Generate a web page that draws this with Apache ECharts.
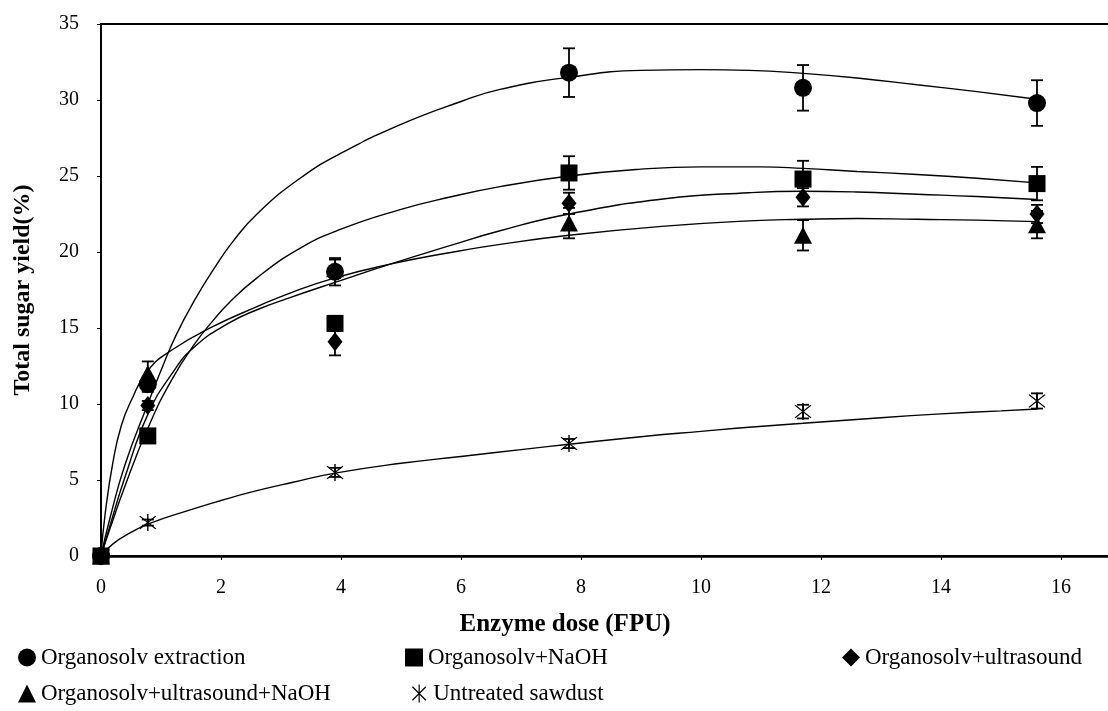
<!DOCTYPE html>
<html>
<head>
<meta charset="utf-8">
<script src="https://cdn.jsdelivr.net/npm/echarts@6/dist/echarts.min.js"></script>
<style>
  html, body { margin: 0; padding: 0; background: #fff; }
  #chart { width: 1108px; height: 711px; }
</style>
</head>
<body>
<div id="chart"></div>
<script>
// Enzyme doses (FPU) at which total sugar yield was measured
const doses = [0, 0.78, 3.9, 7.8, 11.7, 15.6];

const seriesNames = [
  'Organosolv extraction',
  'Organosolv+NaOH',
  'Organosolv+ultrasound',
  'Organosolv+ultrasound+NaOH',
  'Untreated sawdust'
];

// Measured yields (%) and their standard deviations
const yieldExtraction = [0, 11.3, 18.7, 31.8, 30.8, 29.8];
const errExtraction   = [0, 0.5, 0.9, 1.6, 1.5, 1.5];

const yieldNaOH = [0, 7.9, 15.3, 25.2, 24.8, 24.5];
const errNaOH   = [0, 0.3, 0.5, 1.1, 1.2, 1.1];

const yieldUltrasound = [0, 9.9, 14.1, 23.2, 23.6, 22.5];
const errUltrasound   = [0, 0.3, 0.9, 0.7, 0.6, 0.6];

const yieldUltrasoundNaOH = [0, 12.0, 18.9, 21.9, 21.1, 21.8];
const errUltrasoundNaOH   = [0, 0.8, 0.6, 1.0, 1.0, 0.9];

const yieldUntreated = [0, 2.2, 5.5, 7.4, 9.5, 10.2];
const errUntreated   = [0, 0.2, 0.3, 0.3, 0.45, 0.5];

// Trend curves [dose, yield]
const fitExtraction = [[0,0],[0.15,2.5],[0.4,6.0],[0.78,10.0],[1.02,12.4],[1.26,14.6],[1.57,16.9],[1.9,19.0],[2.2,20.7],[2.6,22.5],[3.3,24.8],[4,26.5],[5,28.4],[6,29.9],[6.65,30.7],[7.8,31.5],[9,31.95],[10,32.0],[10.8,31.95],[11.7,31.75],[12.6,31.45],[13.6,31.0],[14.6,30.55],[15.6,30.05]];
const fitNaOH = [[0,0],[0.15,1.8],[0.4,4.6],[0.78,8.4],[1.18,11.6],[1.57,14.0],[1.87,15.5],[2.12,16.6],[2.6,18.3],[3.3,20.2],[4,21.5],[5,22.8],[5.8,23.6],[6.65,24.3],[7.8,25.0],[9,25.45],[10,25.6],[11,25.6],[11.7,25.5],[12.6,25.3],[13.6,25.1],[14.6,24.85],[15.6,24.55]];
const fitUltrasound = [[0,0],[0.15,2.0],[0.4,5.2],[0.78,9.3],[1.2,12.1],[1.57,13.8],[2.12,15.3],[2.6,16.2],[3.15,17.0],[3.9,18.0],[4.82,19.2],[5.8,20.4],[6.65,21.4],[7.8,22.5],[9.4,23.5],[10.8,23.9],[11.7,24.0],[12.6,23.95],[13.6,23.8],[14.6,23.65],[15.6,23.45]];
const fitUltrasoundNaOH = [[0,0],[0.07,2.8],[0.2,6.2],[0.34,8.6],[0.5,10.2],[0.78,12.2],[1.2,13.6],[1.87,15.1],[2.6,16.4],[3.15,17.3],[3.9,18.3],[4.82,19.2],[5.8,19.95],[6.65,20.5],[7.8,21.1],[9.4,21.7],[10.8,22.05],[11.7,22.15],[12.6,22.2],[13.6,22.15],[14.6,22.1],[15.6,22.0]];
const fitUntreated = [[0,0],[0.2,0.8],[0.5,1.55],[0.78,2.1],[1.5,3.05],[2,3.65],[2.5,4.2],[3.2,4.85],[3.9,5.45],[5,6.1],[6,6.55],[7,7.0],[7.8,7.35],[9,7.85],[10,8.2],[10.8,8.47],[11.7,8.73],[13,9.1],[14,9.35],[15,9.55],[15.6,9.67]];

const xTicks = [0, 2, 4, 6, 8, 10, 12, 14, 16];
const yTicks = [0, 5, 10, 15, 20, 25, 30, 35];

// Six-armed asterisk built from three thin bars
function bar(x1, y1, x2, y2, w) {
  const dx = x2 - x1, dy = y2 - y1, len = Math.hypot(dx, dy);
  const nx = -dy / len * w / 2, ny = dx / len * w / 2;
  const p = [[x1 + nx, y1 + ny], [x2 + nx, y2 + ny], [x2 - nx, y2 - ny], [x1 - nx, y1 - ny]];
  return 'M' + p.map(q => q[0].toFixed(2) + ' ' + q[1].toFixed(2)).join(' L') + ' Z';
}
const asteriskSymbol = 'path://' + [
  bar(10, 0, 10, 20, 1.3),
  bar(2.5, 2.5, 17.5, 17.5, 1.3),
  bar(17.5, 2.5, 2.5, 17.5, 1.3)
].join(' ');

const SERIF = 'Liberation Serif';

function errorBar(params, api) {
  const x = api.value(0), y = api.value(1), e = api.value(2);
  if (!e) return null;
  const top = api.coord([x, y + e]);
  const bot = api.coord([x, y - e]);
  const half = 6;
  const style = { stroke: '#000', lineWidth: 1.8 };
  return {
    type: 'group',
    children: [
      { type: 'line', shape: { x1: top[0], y1: top[1], x2: bot[0], y2: bot[1] }, style: style },
      { type: 'line', shape: { x1: top[0] - half, y1: top[1], x2: top[0] + half, y2: top[1] }, style: style },
      { type: 'line', shape: { x1: bot[0] - half, y1: bot[1], x2: bot[0] + half, y2: bot[1] }, style: style }
    ]
  };
}

const groups = [
  { name: seriesNames[0], vals: yieldExtraction, errs: errExtraction, fit: fitExtraction, symbol: 'circle', size: 18, z: 8 },
  { name: seriesNames[1], vals: yieldNaOH, errs: errNaOH, fit: fitNaOH, symbol: 'rect', size: 17, z: 7 },
  { name: seriesNames[2], vals: yieldUltrasound, errs: errUltrasound, fit: fitUltrasound, symbol: 'diamond', size: [15, 19], z: 6 },
  { name: seriesNames[3], vals: yieldUltrasoundNaOH, errs: errUltrasoundNaOH, fit: fitUltrasoundNaOH, symbol: 'triangle', size: [18, 17], z: 5 },
  { name: seriesNames[4], vals: yieldUntreated, errs: errUntreated, fit: fitUntreated, symbol: asteriskSymbol, size: 17, z: 6 }
];

const series = [];
groups.forEach(g => {
  series.push({
    name: g.name + ' trend',
    type: 'line',
    data: g.fit,
    smooth: 0.5,
    showSymbol: false,
    silent: true,
    z: 2,
    lineStyle: { color: '#000', width: 1.4 }
  });
  series.push({
    name: g.name + ' SD',
    type: 'custom',
    renderItem: errorBar,
    data: doses.map((d, i) => [d, g.vals[i], g.errs[i]]),
    encode: { x: 0, y: 1 },
    silent: true,
    z: 3
  });
  series.push({
    name: g.name,
    type: 'scatter',
    data: doses.map((d, i) => [d, g.vals[i]]),
    symbol: g.symbol,
    symbolSize: g.size,
    itemStyle: { color: '#000', opacity: 1 },
    z: g.z
  });
});

const legendText = { fontFamily: SERIF, fontSize: 23, color: '#000' };
function legendAt(name, left, top) {
  return {
    data: [name], left: left, top: top, orient: 'horizontal',
    itemWidth: 18, itemHeight: 18, itemGap: 0, padding: 0,
    selectedMode: false, textStyle: legendText
  };
}

const chart = echarts.init(document.getElementById('chart'), null, { renderer: 'canvas' });
chart.setOption({
  backgroundColor: '#fff',
  animation: false,
  grid: {
    left: 101, top: 24, width: 1008, height: 532,
    show: true, borderColor: '#000', borderWidth: 2,
    containLabel: false, outerBoundsMode: 'none'
  },
  legend: [
    legendAt(seriesNames[0], 18, 646),
    legendAt(seriesNames[1], 405, 646),
    legendAt(seriesNames[2], 842, 646),
    legendAt(seriesNames[3], 18, 682),
    legendAt(seriesNames[4], 412, 682)
  ],
  xAxis: {
    type: 'value', min: xTicks[0], max: 16.8, interval: 2,
    name: 'Enzyme dose (FPU)',
    nameLocation: 'middle', nameGap: 56,
    nameTextStyle: { fontFamily: SERIF, fontWeight: 'bold', fontSize: 25, color: '#000', padding: [0, 80, 0, 0] },
    axisLine: { lineStyle: { color: '#000', width: 2.5 } },
    axisTick: { show: true, inside: false, length: 4, lineStyle: { color: '#000', width: 1 } },
    axisLabel: { fontFamily: SERIF, fontSize: 20, color: '#000', margin: 22, showMaxLabel: false },
    splitLine: { show: false }
  },
  yAxis: {
    type: 'value', min: yTicks[0], max: yTicks[yTicks.length - 1], interval: 5,
    name: 'Total sugar yield(%)',
    nameLocation: 'middle', nameGap: 66, nameRotate: 90,
    nameTextStyle: { fontFamily: SERIF, fontWeight: 'bold', fontSize: 24, color: '#000' },
    axisLine: { lineStyle: { color: '#000', width: 2 } },
    axisTick: { show: true, inside: false, length: 4, lineStyle: { color: '#000', width: 1 } },
    axisLabel: { fontFamily: SERIF, fontSize: 20, color: '#000', margin: 22 },
    splitLine: { show: false }
  },
  series: series
});
</script>
</body>
</html>
